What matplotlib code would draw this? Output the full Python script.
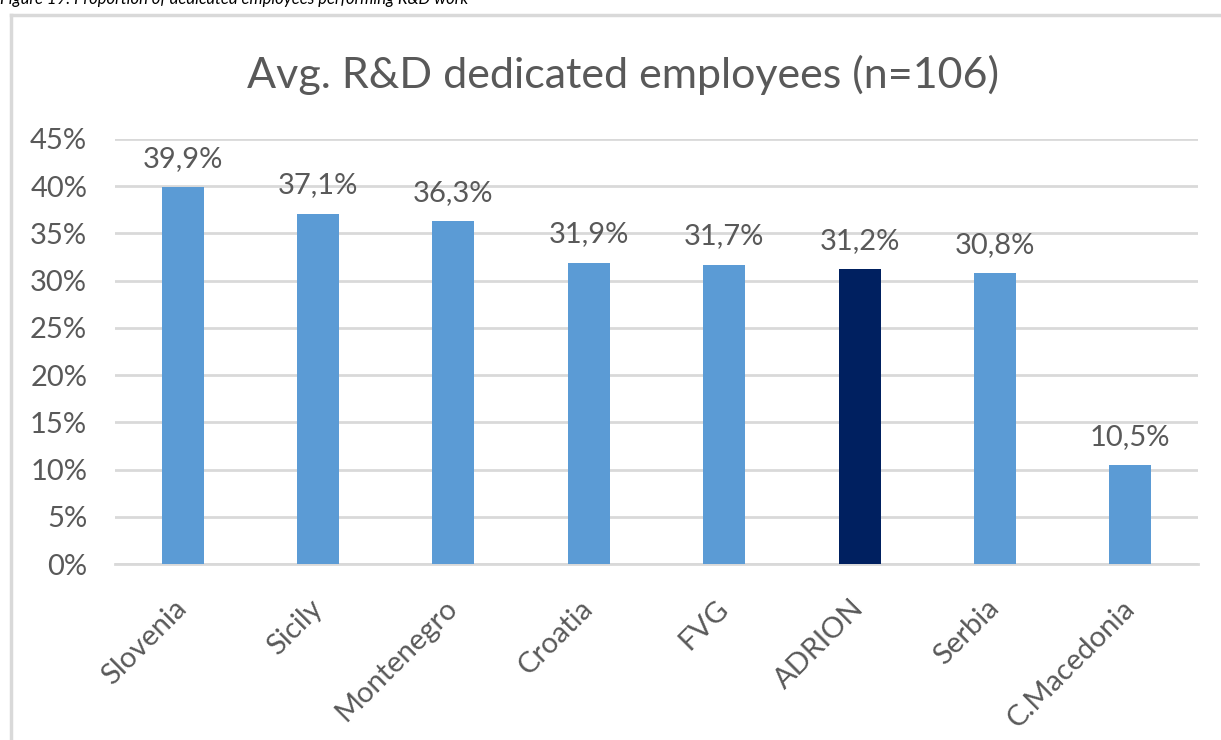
import matplotlib
matplotlib.use('Agg')
from matplotlib import pyplot as plt
from matplotlib.lines import Line2D

regions = ['Slovenia', 'Sicily', 'Montenegro', 'Croatia', 'FVG', 'ADRION', 'Serbia', 'C.Macedonia']
shares = [39.9, 37.1, 36.3, 31.9, 31.7, 31.2, 30.8, 10.5]
labels = ['39,9%', '37,1%', '36,3%', '31,9%', '31,7%', '31,2%', '30,8%', '10,5%']
yticks = [0, 5, 10, 15, 20, 25, 30, 35, 40, 45]

blue = '#5B9BD5'
navy = '#002060'
grey = '#595959'
grid = '#D9D9D9'

plt.rcParams['font.family'] = ['Lato', 'DejaVu Sans']

fig = plt.figure(figsize=(12.21, 7.4), dpi=100)
ax = fig.add_axes([0.0942, 0.2378, 0.887, 0.5744])

colors = [navy if r == 'ADRION' else blue for r in regions]
x = range(len(regions))
ax.bar(x, shares, width=0.31, color=colors, zorder=3)

for i, v in enumerate(shares):
    ax.annotate(labels[i], (i, v), xytext=(0, 11), textcoords='offset points',
                ha='center', va='bottom', fontsize=21, color=grey)

ax.set_xlim(-0.5, len(regions) - 0.5)
ax.set_ylim(0, 45)
ax.set_yticks(yticks)
ax.set_yticklabels([str(t) + '%' for t in yticks], fontsize=21, color=grey)
ax.set_xticks(list(x))
ax.set_xticklabels(regions, fontsize=21, color=grey, rotation=45,
                   ha='right', va='center', rotation_mode='anchor')
ax.tick_params(axis='y', length=0, pad=20)
ax.tick_params(axis='x', length=0, pad=29)
ax.grid(axis='y', color=grid, linewidth=2, zorder=0)
for s in ['top', 'right', 'left']:
    ax.spines[s].set_visible(False)
ax.spines['bottom'].set_color(grid)
ax.spines['bottom'].set_linewidth(2)

fig.text(623 / 1221, 1 - 75 / 740, 'Avg. R&D dedicated employees (n=106)', ha='center', va='center',
         fontsize=31, color=grey)

# caption cut off at the top of the page
fig.text(0.0, 1 - 4 / 740, 'Figure 19: Proportion of dedicated employees performing R&D work',
         ha='left', va='baseline', fontsize=12, style='italic', color='black')

# chart frame (only left and top edges are visible)
fig.add_artist(Line2D([10.5 / 1221, 10.5 / 1221], [0, 1 - 14.5 / 740], color=grid, linewidth=2.5))
fig.add_artist(Line2D([10.5 / 1221, 1], [1 - 14.5 / 740, 1 - 14.5 / 740], color=grid, linewidth=2.5))

fig.savefig('out.png', dpi=100)
